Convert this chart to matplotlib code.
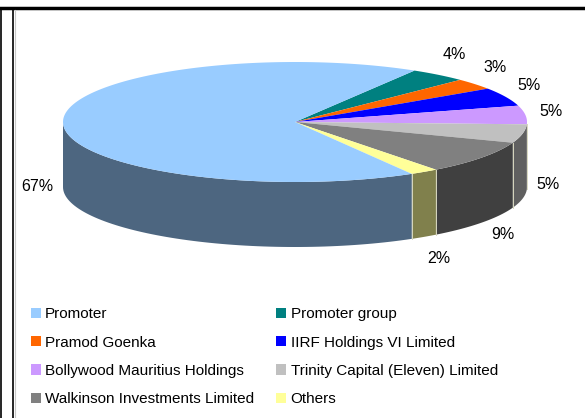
import numpy as np
import matplotlib
matplotlib.use("Agg")
import matplotlib.pyplot as plt
from matplotlib.patches import Polygon, Patch
from matplotlib.lines import Line2D

# shareholding data
labels = ["Promoter", "Promoter group", "Pramod Goenka", "IIRF Holdings VI Limited",
          "Bollywood Mauritius Holdings", "Trinity Capital (Eleven) Limited",
          "Walkinson Investments Limited", "Others"]
shares = [67, 4, 3, 5, 5, 5, 9, 2]
top_colors = ["#99CCFF", "#008080", "#FF6600", "#0000FF",
              "#CC99FF", "#C0C0C0", "#808080", "#FFFF99"]
side_colors = ["#4D6680", "#004040", "#803300", "#000080",
               "#664C80", "#606060", "#404040", "#80804C"]

plt.rcParams['font.family'] = ['Liberation Sans', 'DejaVu Sans']

fig = plt.figure(figsize=(5.85, 4.18), dpi=100)
ax = fig.add_axes([0, 0, 1, 1])
ax.set_xlim(0, 585)
ax.set_ylim(418, 0)
ax.axis("off")

# pie geometry (pixels)
cx, cy = 295, 122
rx, ry = 232, 60
depth = 65
start = 59.0  # degrees, first small slice starts here, running clockwise

# order: small slices clockwise from start, promoter fills the rest
order = list(range(1, len(shares))) + [0]
total = float(sum(shares))
angles = {}
a = start
for i in order:
    span = shares[i] / total * 360.0
    angles[i] = (a - span, a)
    a -= span


def ell(t, dy=0.0):
    t = np.radians(t)
    return np.column_stack([cx + rx * np.cos(t), cy - ry * np.sin(t) + dy])


# side walls (front half only: angles in -180..0)
bounds = []
for i in order:
    a0, a1 = angles[i]
    for off in (0, -360, 360):
        lo, hi = max(a0 + off, -180), min(a1 + off, 0)
        if hi > lo:
            t = np.linspace(lo, hi, 80)
            top = ell(t)
            bot = ell(t, depth)[::-1]
            ax.add_patch(Polygon(np.vstack([top, bot]), closed=True,
                                 facecolor=side_colors[i], edgecolor="none", zorder=1))
            bounds += [lo, hi]

# faint lines between side segments
for b in set(round(v, 3) for v in bounds):
    if -179 < b < -1:
        p = ell([b])[0]
        ax.add_line(Line2D([p[0], p[0]], [p[1], p[1] + depth], color="#D8D8C0",
                           lw=0.7, zorder=2))

# top face
for i in order:
    a0, a1 = angles[i]
    t = np.linspace(a0, a1, 200)
    pts = np.vstack([[cx, cy], ell(t)])
    ax.add_patch(Polygon(pts, closed=True, facecolor=top_colors[i],
                         edgecolor="none", zorder=3))

# percentage labels
for i in order:
    a0, a1 = angles[i]
    m = (a0 + a1) / 2
    if m < -180:
        m += 360
    c, s = np.cos(np.radians(m)), np.sin(np.radians(m))
    p = ell([m])[0]
    if s < 0.05:
        # front slices: label sits beside the side wall
        p = p + [0, depth * (1 - 0.35 * max(c, 0) ** 8)]
    p = p + 26 * np.array([c, -s])
    ax.text(p[0], p[1], "%d%%" % shares[i], ha="center", va="center",
            fontsize=11.5, color="black", zorder=5)

# legend (row-wise order as in the original)
handles = [Patch(facecolor=top_colors[i], edgecolor="none", label=labels[i])
           for i in range(len(labels))]
col_order = [0, 2, 4, 6, 1, 3, 5, 7]
leg = fig.legend([handles[i] for i in col_order], [labels[i] for i in col_order],
                 ncol=2, loc="upper left", bbox_to_anchor=(0.053, 0.265),
                 frameon=False, fontsize=11, handlelength=0.65, handleheight=0.65,
                 handletextpad=0.28, columnspacing=1.45, labelspacing=0.94,
                 borderaxespad=0, borderpad=0)

# frame lines
ax.add_line(Line2D([0, 585], [8, 8], color="black", lw=2.5, zorder=6))
ax.add_line(Line2D([1, 1], [8, 418], color="black", lw=1.2, zorder=6))
ax.add_line(Line2D([13, 13], [8, 418], color="black", lw=1.2, zorder=6))
ax.add_line(Line2D([14.5, 14.5], [10, 418], color="#C8C8C8", lw=0.8, zorder=6))

fig.savefig("out.png", dpi=100)
